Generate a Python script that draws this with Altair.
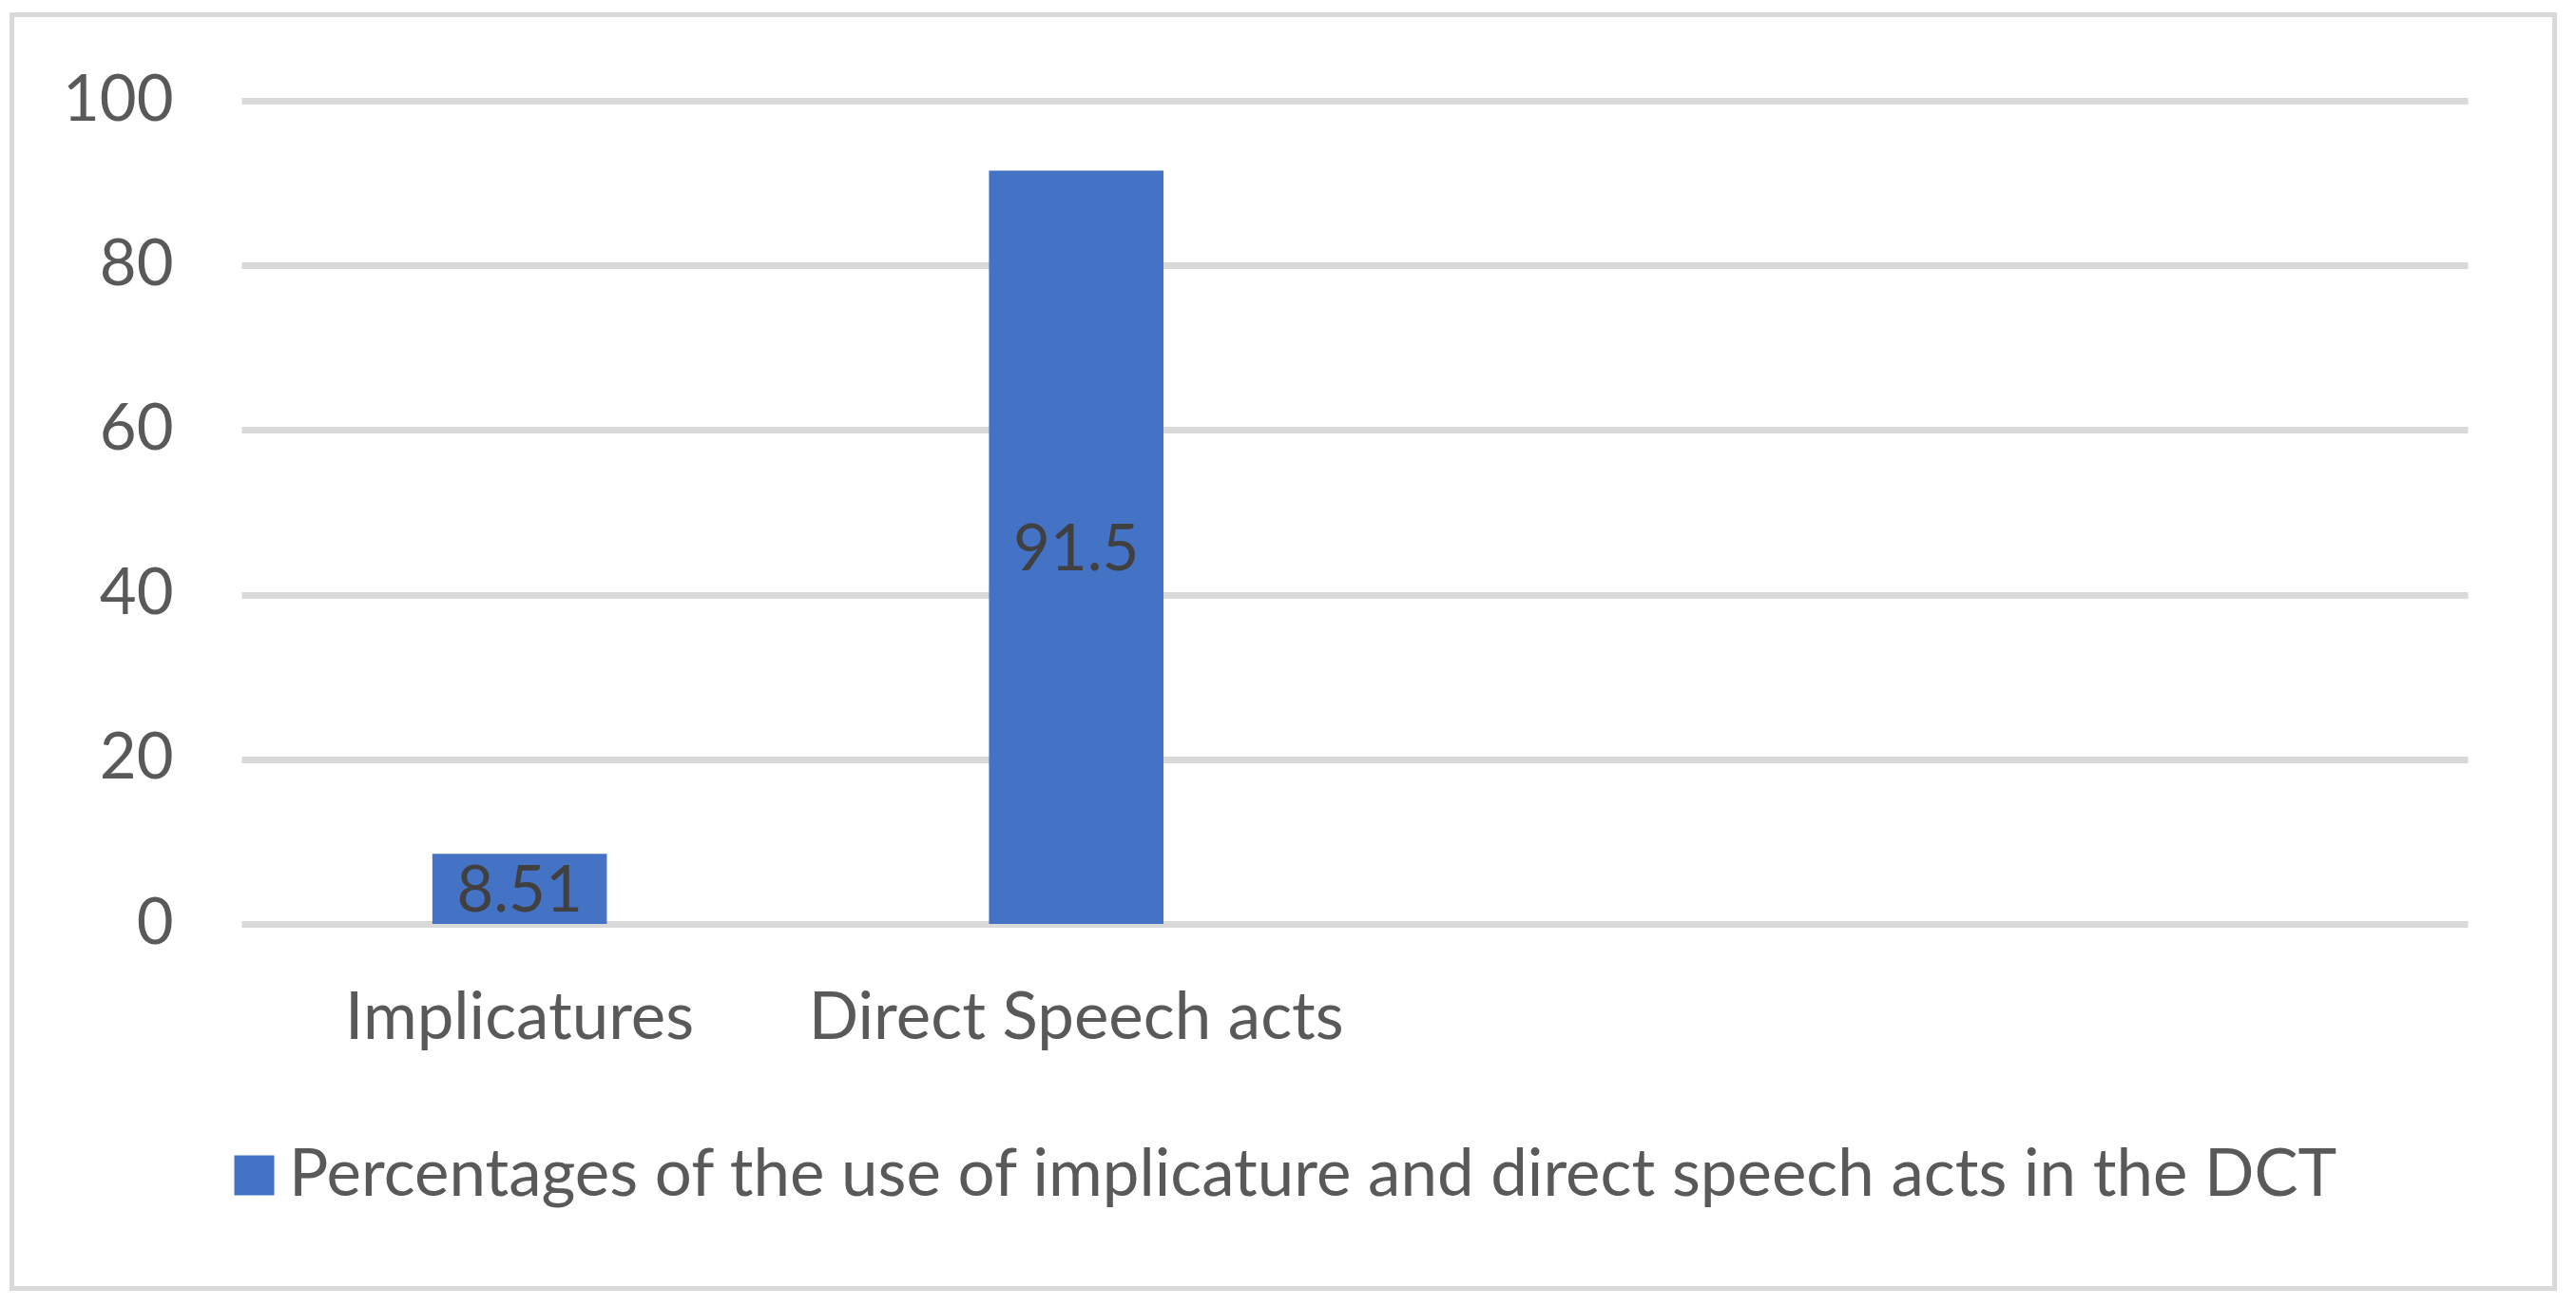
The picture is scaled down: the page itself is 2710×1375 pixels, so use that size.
import altair as alt
import pandas as pd

categories = ["Implicatures", "Direct Speech acts"]
values = [8.51, 91.5]
value_labels = ["8.51", "91.5"]
blank_slots = [" ", "  "]
series_name = "Percentages of the use of implicature and direct speech acts in the DCT"
y_ticks = [0, 20, 40, 60, 80, 100]

df = pd.DataFrame({
    "category": categories,
    "value": values,
    "label": value_labels,
    "series": [series_name] * len(categories),
})

FONT = "Lato"
GREY = "#595959"
x_domain = categories + blank_slots

x_enc = alt.X(
    "category:N",
    sort=None,
    scale=alt.Scale(domain=x_domain, paddingInner=0.6865, paddingOuter=0.343),
    axis=alt.Axis(
        title=None, domain=False, ticks=False, tickSize=0, grid=False,
        labelPadding=120, labelBaseline="alphabetic", labelAngle=0,
        labelFontSize=69, labelFont=FONT, labelColor=GREY,
        labelLimit=0, labelOverlap=False,
    ),
)
y_enc = alt.Y(
    "value:Q",
    scale=alt.Scale(domain=[0, 100], nice=False),
    axis=alt.Axis(
        title=None, values=y_ticks, domain=False, ticks=False, tickSize=0,
        labelPadding=72, labelFontSize=67, labelFont=FONT, labelColor=GREY,
        gridColor="#d9d9d9", gridWidth=7,
    ),
)

bars = alt.Chart(df).mark_bar(color="#4472c4").encode(
    x=x_enc,
    y=y_enc,
    color=alt.Color(
        "series:N",
        scale=alt.Scale(range=["#4472c4"]),
        legend=alt.Legend(
            title=None, orient="none", legendX=-21, legendY=1096,
            symbolType="square", symbolSize=1764, symbolStrokeWidth=0,
            labelFontSize=69, labelFont=FONT, labelColor=GREY,
            labelLimit=0, labelOffset=2, padding=0,
        ),
    ),
)

texts = alt.Chart(df).transform_calculate(mid="datum.value / 2").mark_text(
    font=FONT, fontSize=67, color="#404040", baseline="middle", dy=4
).encode(
    x=alt.X("category:N", sort=None, scale=alt.Scale(domain=x_domain)),
    y=alt.Y("mid:Q"),
    text="label:N",
)

border = alt.Chart(pd.DataFrame({"k": [0]})).mark_rect(
    filled=False, stroke="#d9d9d9", strokeWidth=5
).encode(
    x=alt.value(-241.5), x2=alt.value(2433.5),
    y=alt.value(-90.5), y2=alt.value(1249.5),
)

chart = alt.layer(border, bars, texts).properties(
    width=2342, height=866,
    padding={"left": 246, "top": 98, "right": 106, "bottom": 391},
    autosize=alt.AutoSizeParams(type="none"),
    background="white",
).configure_view(stroke=None)

chart.save("out.html", embed_options={"renderer": "svg", "actions": False})
